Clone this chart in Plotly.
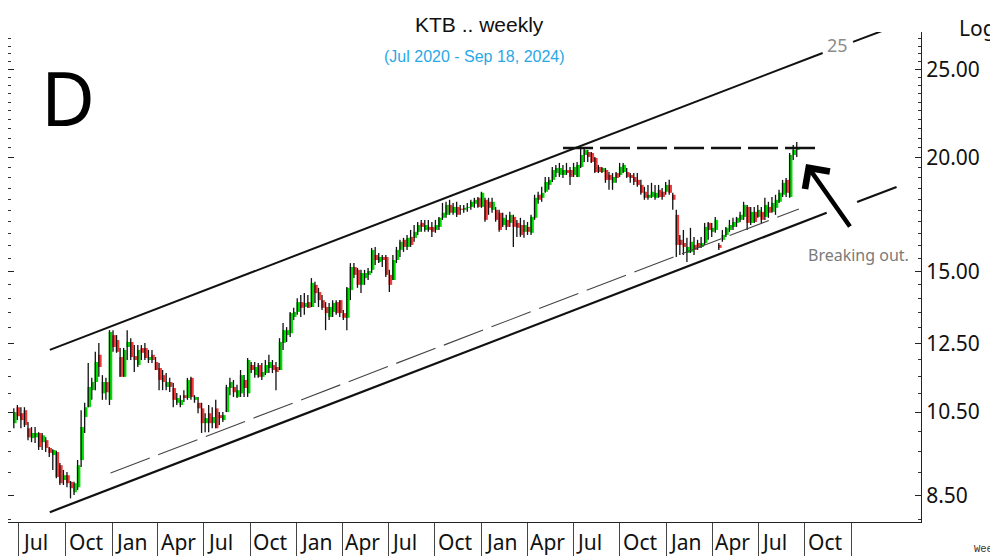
import numpy as np
import pandas as pd
import plotly.graph_objects as go

# ---------------- data ----------------
first_week = "2020-06-22"

opens = [10.21,10.63,10.47,10.55,10.08,9.83,9.85,9.96,9.73,9.78,9.59,9.42,9.49,9.18,8.84,8.95,8.80,8.57,8.68,9.30,
         10.37,10.63,11.10,11.33,12.14,11.01,11.33,10.83,12.76,12.60,12.07,11.48,12.38,12.54,12.10,11.83,12.35,12.35,11.98,12.14,
         11.92,11.74,11.53,11.19,11.33,11.16,10.75,10.69,10.96,10.88,11.45,10.83,10.75,10.60,10.21,10.47,10.21,10.60,10.42,10.29,
         10.50,11.16,11.19,10.91,11.01,11.39,11.01,11.83,11.53,11.83,11.48,11.59,11.74,11.83,11.77,11.68,12.51,12.76,12.82,13.36,
         13.53,13.87,13.70,13.87,13.70,14.49,14.23,13.94,13.70,13.36,13.53,13.87,13.94,13.49,13.33,14.30,15.16,15.05,14.49,14.74,
         14.86,15.05,15.63,15.35,15.55,15.55,14.86,14.67,15.43,15.83,16.24,15.95,16.36,16.32,16.57,16.95,16.65,16.78,16.78,16.65,
         16.78,17.17,17.30,17.74,17.39,17.65,17.57,17.52,17.61,17.65,17.79,18.06,17.65,17.97,17.88,17.52,17.52,17.39,16.86,17.08,
         16.95,17.21,16.95,16.86,16.57,16.78,16.53,17.17,18.20,18.06,18.34,18.66,18.90,19.23,19.14,19.14,19.38,19.38,19.14,19.04,
         19.53,20.13,20.28,20.23,19.98,19.53,19.28,19.38,19.14,18.76,19.23,19.14,19.28,19.28,19.14,19.04,18.90,18.66,18.34,18.06,
         18.10,18.06,18.43,18.34,18.34,18.66,18.20,17.30,16.24,16.11,15.71,15.75,16.03,16.11,15.95,16.11,16.95,16.57,16.65,16.03,
         16.24,16.44,16.65,16.78,16.95,17.08,17.21,17.65,16.95,17.43,17.21,17.43,17.21,17.65,17.43,17.61,17.88,18.20,18.90,18.10,
         20.13,20.39]
highs = [10.60,10.69,10.63,10.63,10.24,10.11,10.11,9.98,9.96,9.85,9.61,9.56,9.52,9.23,9.07,9.02,8.82,8.80,9.30,10.55,
         10.75,11.89,11.45,12.23,12.51,11.53,11.45,12.92,12.92,12.76,12.35,12.35,12.92,12.66,12.44,12.44,12.44,12.51,12.29,12.29,
         12.07,11.89,11.68,11.59,11.45,11.30,11.02,10.96,11.10,11.45,11.48,10.96,10.91,10.75,10.47,10.69,10.63,10.83,10.50,10.50,
         11.25,11.45,11.39,11.25,11.68,11.53,12.04,11.92,11.92,11.89,11.89,11.98,12.14,11.98,11.92,12.66,13.16,13.02,13.53,13.67,
         14.01,14.12,14.19,14.12,14.74,14.60,14.38,14.12,13.87,13.84,13.94,13.94,13.94,13.60,14.41,15.31,15.31,15.12,15.05,15.05,
         15.12,15.91,15.95,15.71,15.63,15.63,15.05,15.63,15.95,16.24,16.32,16.44,16.65,16.86,16.99,17.08,17.08,17.08,16.99,17.08,
         17.21,17.83,17.88,17.97,17.83,17.88,17.74,17.74,17.83,17.97,18.06,18.10,18.34,18.06,18.06,18.06,17.65,17.52,17.39,17.30,
         17.43,17.30,17.08,17.17,17.08,16.99,17.30,18.20,18.34,18.57,19.04,19.04,19.53,19.63,19.73,19.63,19.73,19.53,19.73,19.78,
         20.49,20.49,20.39,20.28,20.03,19.63,19.53,19.48,19.28,19.23,19.28,19.73,19.73,19.48,19.23,19.23,19.23,18.90,18.57,18.66,
         18.76,18.66,18.66,18.52,18.80,18.90,18.29,17.52,16.44,16.65,16.32,16.74,16.36,16.24,16.36,16.95,16.99,16.95,17.21,16.11,
         16.65,16.78,17.08,17.17,17.21,17.43,17.88,17.74,17.65,17.65,17.74,17.65,18.06,17.88,18.10,18.20,18.43,18.90,18.99,20.23,
         20.65,20.80]
lows = [10.08,10.29,10.08,10.11,9.78,9.73,9.71,9.54,9.54,9.49,9.37,9.07,8.88,8.73,8.73,8.68,8.44,8.51,8.62,9.14,
        9.96,10.63,10.83,11.10,11.48,10.83,10.83,10.69,12.23,12.20,11.48,11.48,11.98,11.98,11.62,11.77,11.98,11.98,11.89,11.89,
        11.68,11.10,11.10,11.10,11.05,10.63,10.69,10.63,10.77,10.83,10.83,10.75,10.47,9.96,9.98,9.98,10.08,10.08,10.16,10.24,
        10.50,10.96,10.91,10.88,10.91,10.91,10.91,11.59,11.45,11.45,11.39,11.53,11.59,11.59,11.10,11.68,12.29,12.54,12.70,13.26,
        13.43,13.36,13.43,13.67,13.70,13.84,13.70,13.60,12.92,13.26,13.36,13.43,13.36,13.26,12.92,13.94,14.74,14.38,14.19,14.49,
        14.67,14.93,15.24,15.31,15.16,14.78,14.23,14.67,15.31,15.55,15.75,15.83,15.95,16.16,16.44,16.57,16.57,16.57,16.36,16.53,
        16.65,17.08,17.17,17.30,17.30,17.21,17.30,17.39,17.43,17.52,17.61,17.61,17.61,17.00,17.30,17.39,17.00,16.57,16.78,16.65,
        16.78,15.95,16.36,16.36,16.32,16.44,16.44,17.08,17.79,17.88,18.29,18.43,18.80,19.04,19.04,18.99,19.14,18.66,19.04,19.04,
        19.48,19.78,19.78,19.73,19.23,19.23,19.23,18.76,18.43,18.43,18.76,19.04,19.23,18.99,18.76,18.66,18.57,18.20,17.97,17.97,
        18.06,17.97,18.06,17.97,18.20,18.20,17.52,15.55,15.63,15.63,15.35,15.71,15.63,15.83,15.91,16.03,16.24,16.36,16.53,15.83,
        16.16,16.36,16.57,16.65,16.78,16.99,17.08,16.65,16.86,16.95,17.17,16.95,17.08,17.17,17.39,17.30,17.83,18.10,18.10,18.06,
        19.88,20.03]
closes = [10.50,10.39,10.29,10.16,9.85,9.96,9.96,9.61,9.90,9.59,9.47,9.54,8.91,8.77,8.95,8.77,8.66,8.77,9.18,10.11,
          10.63,11.19,11.33,11.92,11.77,11.33,11.04,12.86,12.38,12.23,11.48,12.29,12.54,12.07,11.98,12.29,12.20,12.04,12.07,11.98,
          11.68,11.39,11.33,11.33,11.19,10.83,10.88,10.83,10.88,11.39,10.91,10.91,10.60,10.21,10.34,10.21,10.37,10.08,10.34,10.42,
          11.19,11.33,11.04,11.10,11.53,11.16,11.98,11.68,11.77,11.48,11.62,11.83,11.92,11.68,11.62,12.54,12.92,12.92,13.49,13.53,
          13.87,13.67,13.84,13.67,14.56,14.19,13.94,13.67,13.49,13.70,13.84,13.49,13.49,13.33,14.38,15.16,14.86,14.49,14.93,14.93,
          15.01,15.83,15.43,15.55,15.43,14.86,14.49,15.43,15.83,16.16,15.95,16.32,16.03,16.57,16.86,16.78,16.86,16.65,16.57,16.86,
          17.17,17.39,17.74,17.39,17.65,17.30,17.52,17.61,17.65,17.88,17.97,17.65,18.29,17.08,17.61,17.88,17.08,16.65,17.17,16.78,
          17.30,16.78,16.74,16.44,16.86,16.57,17.21,18.06,17.97,18.29,18.80,18.90,19.38,19.48,19.48,19.38,19.23,19.04,19.53,19.63,
          20.13,20.39,20.03,19.78,19.28,19.28,19.48,18.90,18.90,19.04,18.99,19.53,19.63,19.04,18.99,18.80,18.66,18.29,18.06,18.20,
          18.34,18.29,18.10,18.10,18.66,18.29,17.97,16.03,16.03,15.95,15.95,16.16,15.83,15.91,16.11,16.78,16.65,16.74,17.08,15.91,
          16.44,16.74,16.86,16.99,17.17,17.30,17.74,16.95,17.43,16.99,17.52,17.08,17.74,17.39,17.83,17.97,18.29,18.76,18.29,20.13,
          20.39,20.44]

y_tick_vals = [8.5, 10.5, 12.5, 15.0, 20.0, 25.0]
y_tick_text = ["8.50", "10.50", "12.50", "15.00", "20.00", "25.00"]
y_minor_vals = [v / 2 for v in range(16, 56) if (v / 2) not in y_tick_vals]
x_tick_dates = pd.date_range("2020-07-01", "2025-01-01", freq="QS")
x_label_dates = pd.date_range("2020-07-01", "2024-10-01", freq="QS")
x_labels = [d.strftime("%b") for d in x_label_dates]

# drawn study lines (date, price)
upper_a = [("2020-08-31", 12.29), ("2024-11-05", 26.06)]
upper_b = [("2025-01-04", 26.80), ("2025-03-18", 27.76)]
lower_a = [("2020-08-31", 8.15), ("2024-11-13", 17.39)]
lower_b = [("2025-01-12", 17.87), ("2025-03-31", 18.56)]
inner_dash = [("2020-12-29", 9.00), ("2024-09-19", 17.56)]
resistance = [("2023-06-11", 20.49), ("2024-10-21", 20.49)]

# ---------------- geometry ----------------
# the page body adds an 8px offset; the figure is sized so that the visible
# page matches the 998x556 target.
OFF = 8
W, H = 998 - OFF, 556 - OFF
ML, MT = 8 - OFF, 32 - OFF
PW, PH = 913, 490
MR = W - ML - PW
MB = H - MT - PH

def px(x):
    return (x - OFF - ML) / PW
def py(y):
    return (MT + PH - (y - OFF)) / PH

dates = pd.date_range(first_week, periods=len(opens), freq="7D")
wick_off = pd.Timedelta(hours=-28)
body_off = pd.Timedelta(hours=20)

wx, wy = [], []
ux, uy, dx, dy = [], [], [], []
for d, o, h, l, c in zip(dates, opens, highs, lows, closes):
    wx += [d + wick_off, d + wick_off, None]
    wy += [l, h, None]
    if c >= o:
        ux += [d + body_off, d + body_off, None]
        uy += [o, c, None]
    else:
        dx += [d + body_off, d + body_off, None]
        dy += [o, c, None]

fig = go.Figure()
fig.add_trace(go.Scatter(x=ux, y=uy, mode="lines", line=dict(color="#00dd00", width=3.6),
                         hoverinfo="skip", connectgaps=False))
fig.add_trace(go.Scatter(x=dx, y=dy, mode="lines", line=dict(color="#f03a3a", width=3.6),
                         hoverinfo="skip", connectgaps=False))
fig.add_trace(go.Scatter(x=wx, y=wy, mode="lines", line=dict(color="#111111", width=1.3),
                         hoverinfo="skip", connectgaps=False))

def seg(pts, color, width, dash="solid"):
    (x0, y0), (x1, y1) = pts
    fig.add_shape(type="line", xref="x", yref="y", x0=x0, y0=y0, x1=x1, y1=y1,
                  line=dict(color=color, width=width, dash=dash), layer="above")

seg(upper_a, "#111111", 2)
seg(upper_b, "#111111", 2)
seg(lower_a, "#111111", 2.2)
seg(lower_b, "#111111", 2.2)
seg(inner_dash, "#444444", 1.1, "42px,9px")
seg(resistance, "#111111", 2.4, "30px,7px")

annotations = []
for d, lab in zip(x_label_dates, x_labels):
    annotations.append(dict(x=d, xref="x", y=py(542), yref="paper", text=lab, showarrow=False,
                            xanchor="left", yanchor="middle", xshift=1,
                            font=dict(family="Noto Sans", size=21, color="#111111")))
annotations += [
    dict(x=px(479), y=py(24), xref="paper", yref="paper", text="KTB .. weekly", showarrow=False,
         xanchor="center", yanchor="middle", font=dict(family="Liberation Sans", size=21, color="#111111")),
    dict(x=px(474), y=py(57), xref="paper", yref="paper", text="(Jul 2020 - Sep 18, 2024)", showarrow=False,
         xanchor="center", yanchor="middle", font=dict(family="Liberation Sans", size=16, color="#2aa8e6")),
    dict(x=px(68), y=py(97), xref="paper", yref="paper", text="D", showarrow=False,
         xanchor="center", yanchor="middle", font=dict(family="Noto Sans", size=74, color="#000000")),
    dict(x=px(957), y=py(28), xref="paper", yref="paper", text="Log", showarrow=False,
         xanchor="left", yanchor="middle", font=dict(family="Noto Sans", size=21, color="#111111")),
    dict(x=px(972), y=py(549), xref="paper", yref="paper", text="Week", showarrow=False,
         xanchor="left", yanchor="middle", font=dict(family="Liberation Mono", size=10.5, color="#333333")),
    dict(x=px(837), y=py(45), xref="paper", yref="paper", text="25", showarrow=False,
         xanchor="center", yanchor="middle", font=dict(family="Noto Sans", size=18, color="#8c8c8c")),
    dict(x=px(806), y=py(255), xref="paper", yref="paper", text="Breaking out.", showarrow=False,
         xanchor="left", yanchor="middle", font=dict(family="Noto Sans", size=16, color="#7a7a7a")),
    dict(x=px(806), y=py(164), xref="paper", yref="paper", text="", showarrow=True,
         ax=45, ay=64, arrowhead=4, arrowsize=1.3, arrowwidth=4.5, arrowcolor="#000000", standoff=0),
]

fig.update_layout(
    width=W, height=H,
    margin=dict(l=ML, r=MR, t=MT, b=MB, pad=0, autoexpand=False),
    paper_bgcolor="white", plot_bgcolor="white",
    showlegend=False,
    annotations=annotations,
    xaxis=dict(type="date", range=["2020-06-09 08:00", "2025-05-18 08:00"],
               showgrid=False, zeroline=False, showline=True, linecolor="#222222", linewidth=1,
               tickmode="array", tickvals=list(x_tick_dates), ticks="outside", ticklen=34,
               tickcolor="#444444", tickwidth=1, showticklabels=False, fixedrange=True),
    yaxis=dict(type="log", range=[np.log10(7.95), np.log10(27.48)], side="right",
               showgrid=False, zeroline=False, showline=True, linecolor="#222222", linewidth=1,
               mirror="ticks", tickmode="array", tickvals=y_tick_vals, ticktext=y_tick_text,
               ticks="inside", ticklen=6, tickcolor="#222222", tickwidth=1,
               tickfont=dict(family="Noto Sans", size=21, color="#111111"),
               minor=dict(tickmode="array", tickvals=y_minor_vals, ticks="inside", ticklen=3,
                          tickcolor="#333333", tickwidth=1),
               fixedrange=True),
)

fig.write_html("out.html")
